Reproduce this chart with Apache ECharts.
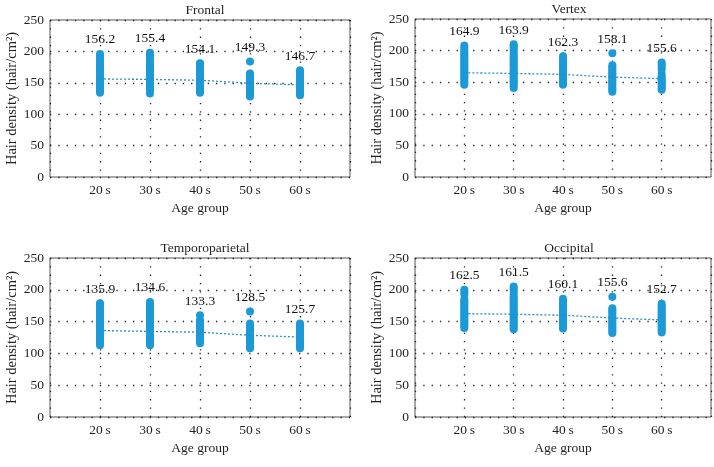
<!DOCTYPE html>
<html>
<head>
<meta charset="utf-8">
<script src="https://cdn.jsdelivr.net/npm/echarts@6/dist/echarts.min.js"></script>
<style>
html,body{margin:0;padding:0;background:#fff;}
#c{width:714px;height:467px;}
</style>
</head>
<body>
<div id="c"></div>
<script>
// ---- Data ----
var categories = ['20\u2009s', '30\u2009s', '40\u2009s', '50\u2009s', '60\u2009s'];
var panelTitles = ['Frontal', 'Vertex', 'Temporoparietal', 'Occipital'];
var yTicks = [0, 50, 100, 150, 200, 250];

var frontalMeans = [156.2, 155.4, 154.1, 149.3, 146.7];
var vertexMeans = [164.9, 163.9, 162.3, 158.1, 155.6];
var temporoMeans = [135.9, 134.6, 133.3, 128.5, 125.7];
var occipitalMeans = [162.5, 161.5, 160.1, 155.6, 152.7];

var frontalPoints = [
  [134,137,140,143,146,149,151,154,157,160,163,166,169,172,175,178,181,185,189,193,196],
  [133,136,139,142,145,148,151,154,157,160,163,166,170,173,176,179,182,186,191,195,198],
  [134,137,140,143,146,149,152,155,158,161,164,167,170,174,178,181],
  [128,131,134,137,140,143,146,149,152,155,158,161,165,184],
  [130,133,136,139,142,145,148,151,154,157,160,163,167,170]
];
var vertexPoints = [
  [146,149,152,155,158,161,164,167,170,173,176,179,182,185,188,191,194,197,200,204,208],
  [141,144,147,150,153,156,159,162,165,168,171,174,177,180,183,186,189,192,196,200,204,207,210],
  [146,149,152,155,158,161,164,167,170,173,177,181,186,191],
  [135,138,141,144,147,150,153,156,159,162,165,168,171,174,177,196],
  [138,141,144,147,150,153,156,159,163,170,174,178,181]
];
var temporoPoints = [
  [113,116,119,122,125,128,131,134,137,140,143,146,149,152,155,158,162,166,170,174,177,179],
  [113,116,119,122,125,128,131,134,137,140,143,146,149,152,155,158,161,165,169,173,177,181],
  [116,119,122,125,128,131,134,137,140,143,146,149,152,160],
  [108,111,114,117,120,123,126,129,132,135,138,141,144,147,166],
  [108,111,114,117,120,123,126,129,132,135,138,141,144,147]
];
var occipitalPoints = [
  [140,143,146,149,152,155,158,161,164,167,170,173,176,179,182,185,193,197,200],
  [138,141,144,147,150,153,156,159,162,165,168,171,174,177,180,183,186,190,194,198,202,205],
  [139,142,145,148,151,154,157,160,163,166,169,172,175,178,182,186],
  [132,135,138,141,144,147,150,153,156,159,162,165,168,171,189],
  [133,136,139,142,145,148,151,154,157,160,163,166,169,172,175,178]
];

var allMeans = [frontalMeans, vertexMeans, temporoMeans, occipitalMeans];
var allPoints = [frontalPoints, vertexPoints, temporoPoints, occipitalPoints];

// ---- Layout ----
var grids = [
  {left: 50, top: 20, width: 300, height: 157},
  {left: 415, top: 19, width: 298, height: 158},
  {left: 50, top: 258, width: 300, height: 159},
  {left: 415, top: 258, width: 298, height: 159}
];
var FONT = 'Liberation Serif';
var TXT = '#231f20';
var BLUE = '#1b9ad6';
var dotted = {color: '#222', width: 1.3, type: [1.3, 7]};

var option = {
  animation: false,
  backgroundColor: '#fff',
  textStyle: {fontFamily: FONT, color: TXT},
  title: [], grid: [], xAxis: [], yAxis: [], series: []
};

grids.forEach(function (g, i) {
  option.grid.push({left: g.left, top: g.top, width: g.width, height: g.height,
    show: true, borderColor: '#555', borderWidth: 1, backgroundColor: 'transparent'});
  option.title.push({
    text: panelTitles[i], left: g.left + g.width / 2, textAlign: 'center',
    top: g.top - 22,
    textStyle: {fontFamily: FONT, fontSize: 13.5, fontWeight: 'normal', color: TXT}
  });
  option.xAxis.push({
    type: 'value', gridIndex: i, min: 0, max: 6, interval: 1,
    name: 'Age group', nameLocation: 'middle', nameGap: 24,
    nameTextStyle: {fontFamily: FONT, fontSize: 13.5, color: TXT},
    axisLine: {show: false}, axisTick: {show: false},
    axisLabel: {fontFamily: FONT, fontSize: 13.5, color: TXT, margin: 6,
      formatter: function (v) { return (v >= 1 && v <= 5) ? categories[v - 1] : ''; }},
    splitLine: {show: true, lineStyle: dotted}
  });
  option.yAxis.push({
    type: 'value', gridIndex: i, min: yTicks[0], max: yTicks[yTicks.length - 1], interval: 50,
    name: 'Hair density (hair/cm\u00B2)', nameLocation: 'middle', nameGap: 30,
    nameTextStyle: {fontFamily: FONT, fontSize: 14.5, color: TXT},
    axisLine: {show: false}, axisTick: {show: false},
    axisLabel: {fontFamily: FONT, fontSize: 13.5, color: TXT, margin: 6},
    splitLine: {show: true, lineStyle: dotted}
  });

  var pts = [];
  var tops = [];
  allPoints[i].forEach(function (grp, k) {
    grp.forEach(function (v) { pts.push([k + 1, v]); });
    tops.push([k + 1, Math.max.apply(null, grp), allMeans[i][k]]);
  });
  option.series.push({
    type: 'scatter', xAxisIndex: i, yAxisIndex: i, data: pts,
    symbolSize: 8, itemStyle: {color: BLUE, opacity: 1}, z: 2
  });
  option.series.push({
    type: 'line', xAxisIndex: i, yAxisIndex: i,
    data: allMeans[i].map(function (m, k) { return [k + 1, m]; }),
    symbol: 'none', lineStyle: {color: '#2a8fc8', width: 1.3, type: [2, 2]}, z: 3
  });
  option.series.push({
    type: 'scatter', xAxisIndex: i, yAxisIndex: i, data: tops,
    symbolSize: 0.01, itemStyle: {color: BLUE, opacity: 1}, z: 4,
    label: {show: true, position: 'top', distance: 7,
      fontFamily: FONT, fontSize: 13.5, color: '#111', opacity: 1,
      textBorderWidth: 0,
      formatter: function (p) { return p.value[2].toFixed(1); }}
  });
});

var chart = echarts.init(document.getElementById('c'), null, {renderer: 'canvas'});
chart.setOption(option);
</script>
</body>
</html>
